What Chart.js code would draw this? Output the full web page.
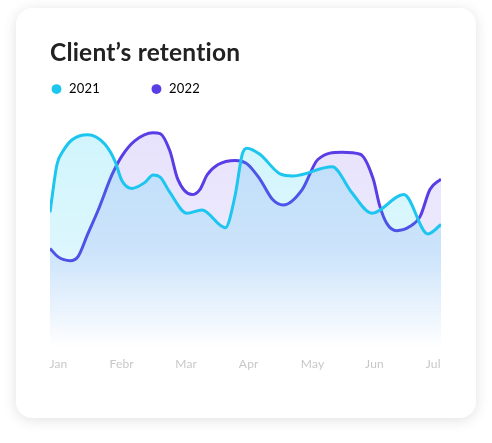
<!DOCTYPE html>
<html>
  <head>
    <meta charset="utf-8" />
    <title>Client's retention</title>
    <script src="https://cdn.jsdelivr.net/npm/chart.js"></script>
    <style>
      body { margin: 0; background: #fff; }
      .card {
        position: absolute; left: 16px; top: 8px; width: 460px; height: 410px;
        border-radius: 16px; background: #fff;
        box-shadow: 0 2px 14px rgba(0, 0, 0, 0.12);
      }
      #retentionCanvas { position: absolute; left: 0; top: 0; }
    </style>
  </head>
  <body>
    <div class="card"></div>
    <canvas id="retentionCanvas" width="492" height="443"></canvas>
    <script>
      // month labels and where they sit on the x axis (0 = left edge, 6 = right edge)
      const months = ["Jan", "Febr", "Mar", "Apr", "May", "Jun", "Jul"];
      const monthPos = [0.13, 1.1, 2.09, 3.05, 4.03, 4.98, 5.88];

      const x2021 = [0, 0.107, 0.2, 0.34, 0.58, 0.84, 1.0, 1.1, 1.26, 1.46, 1.58, 1.69, 1.84, 2.1, 2.33, 2.69, 2.84, 2.95, 3.02, 3.22, 3.53, 3.73, 4.33, 4.63, 4.94, 5.43, 5.8, 6.0];
      const y2021 = [59.5, 80.5, 86.4, 91.4, 93.6, 89.5, 81.8, 73.6, 70.0, 72.7, 75.9, 75.0, 68.2, 59.1, 60.5, 52.7, 66.8, 85.0, 87.7, 85.0, 76.4, 75.5, 79.5, 68.2, 59.1, 67.3, 50.0, 54.1];

      const x2022 = [0, 0.12, 0.31, 0.43, 0.58, 0.74, 0.95, 1.1, 1.3, 1.58, 1.69, 1.84, 1.96, 2.18, 2.3, 2.41, 2.58, 2.84, 3.02, 3.22, 3.42, 3.58, 3.87, 4.11, 4.48, 4.76, 4.96, 5.06, 5.17, 5.32, 5.52, 5.68, 5.83, 6.0];
      const y2022 = [43.6, 40.0, 38.2, 40.0, 50.0, 60.5, 75.9, 84.1, 90.9, 94.5, 94.1, 86.4, 74.1, 67.3, 69.5, 75.9, 80.5, 82.3, 80.9, 74.1, 65.0, 62.7, 69.5, 82.7, 85.9, 85.0, 74.1, 62.3, 54.5, 51.4, 53.2, 57.7, 69.5, 74.1];

      function toPoints(xs, ys) {
        return xs.map((x, i) => ({ x: x, y: ys[i] }));
      }

      // vertical fade of the area under a line
      function fade(rgb, alpha) {
        return function (context) {
          const area = context.chart.chartArea;
          if (!area) return "rgba(" + rgb + "," + alpha + ")";
          const g = context.chart.ctx.createLinearGradient(0, area.top, 0, area.bottom);
          g.addColorStop(0, "rgba(" + rgb + "," + alpha + ")");
          g.addColorStop(0.6, "rgba(" + rgb + "," + alpha * 0.75 + ")");
          g.addColorStop(1, "rgba(" + rgb + ",0)");
          return g;
        };
      }

      // a hair of letter spacing keeps Lato from joining "ti" into a ligature
      const noLigatures = {
        id: "noLigatures",
        beforeDraw: (c) => {
          c.ctx.letterSpacing = "0.2px";
        },
      };

      const ctx = document.getElementById("retentionCanvas").getContext("2d");
      const chart = new Chart(ctx, {
        type: "line",
        data: {
          datasets: [
            {
              label: "2021",
              data: toPoints(x2021, y2021),
              borderColor: "#1cc6ee",
              backgroundColor: fade("16,200,240", 0.2),
              borderWidth: 3,
              fill: "start",
            },
            {
              label: "2022",
              data: toPoints(x2022, y2022),
              borderColor: "#5a3de6",
              backgroundColor: fade("100,70,235", 0.16),
              borderWidth: 3,
              fill: "start",
            },
          ],
        },
        plugins: [noLigatures],
        options: {
          responsive: false,
          animation: false,
          cubicInterpolationMode: "monotone",
          elements: { point: { radius: 0 } },
          layout: { padding: { left: 0, right: 51, top: 0, bottom: 63 } },
          plugins: {
            tooltip: { enabled: false },
            title: {
              display: true,
              text: "Client\u2019s retention",
              align: "start",
              fullSize: false,
              color: "#222",
              font: { family: "Lato", size: 24.5, weight: "bold" },
              padding: { top: 38.8, bottom: -36.1 },
            },
            legend: {
              align: "start",
              labels: {
                usePointStyle: true,
                boxWidth: 12,
                boxHeight: 7,
                padding: 50.5,
                color: "#333",
                font: { family: "Lato", size: 13 },
                generateLabels: (c) =>
                  c.data.datasets.map((ds, i) => ({
                    text: ds.label,
                    fillStyle: ds.borderColor,
                    strokeStyle: ds.borderColor,
                    lineWidth: 0,
                    pointStyle: "circle",
                    hidden: false,
                    datasetIndex: i,
                  })),
              },
            },
          },
          scales: {
            x: {
              type: "linear",
              min: 0,
              max: 6,
              grid: { display: false, drawTicks: false },
              border: { display: false },
              afterBuildTicks: (axis) => {
                axis.ticks = monthPos.map((v) => ({ value: v }));
              },
              ticks: {
                autoSkip: false,
                maxRotation: 0,
                padding: 9,
                color: "#c8c8c8",
                font: { family: "Lato", size: 12 },
                callback: (value, index) => months[index],
              },
            },
            y: {
              min: 0,
              max: 106.4,
              grid: { display: false, drawTicks: false },
              border: { display: false },
              ticks: { display: false },
              afterFit: (scale) => {
                scale.width = 50;
              },
            },
          },
        },
      });
    </script>
  </body>
</html>
